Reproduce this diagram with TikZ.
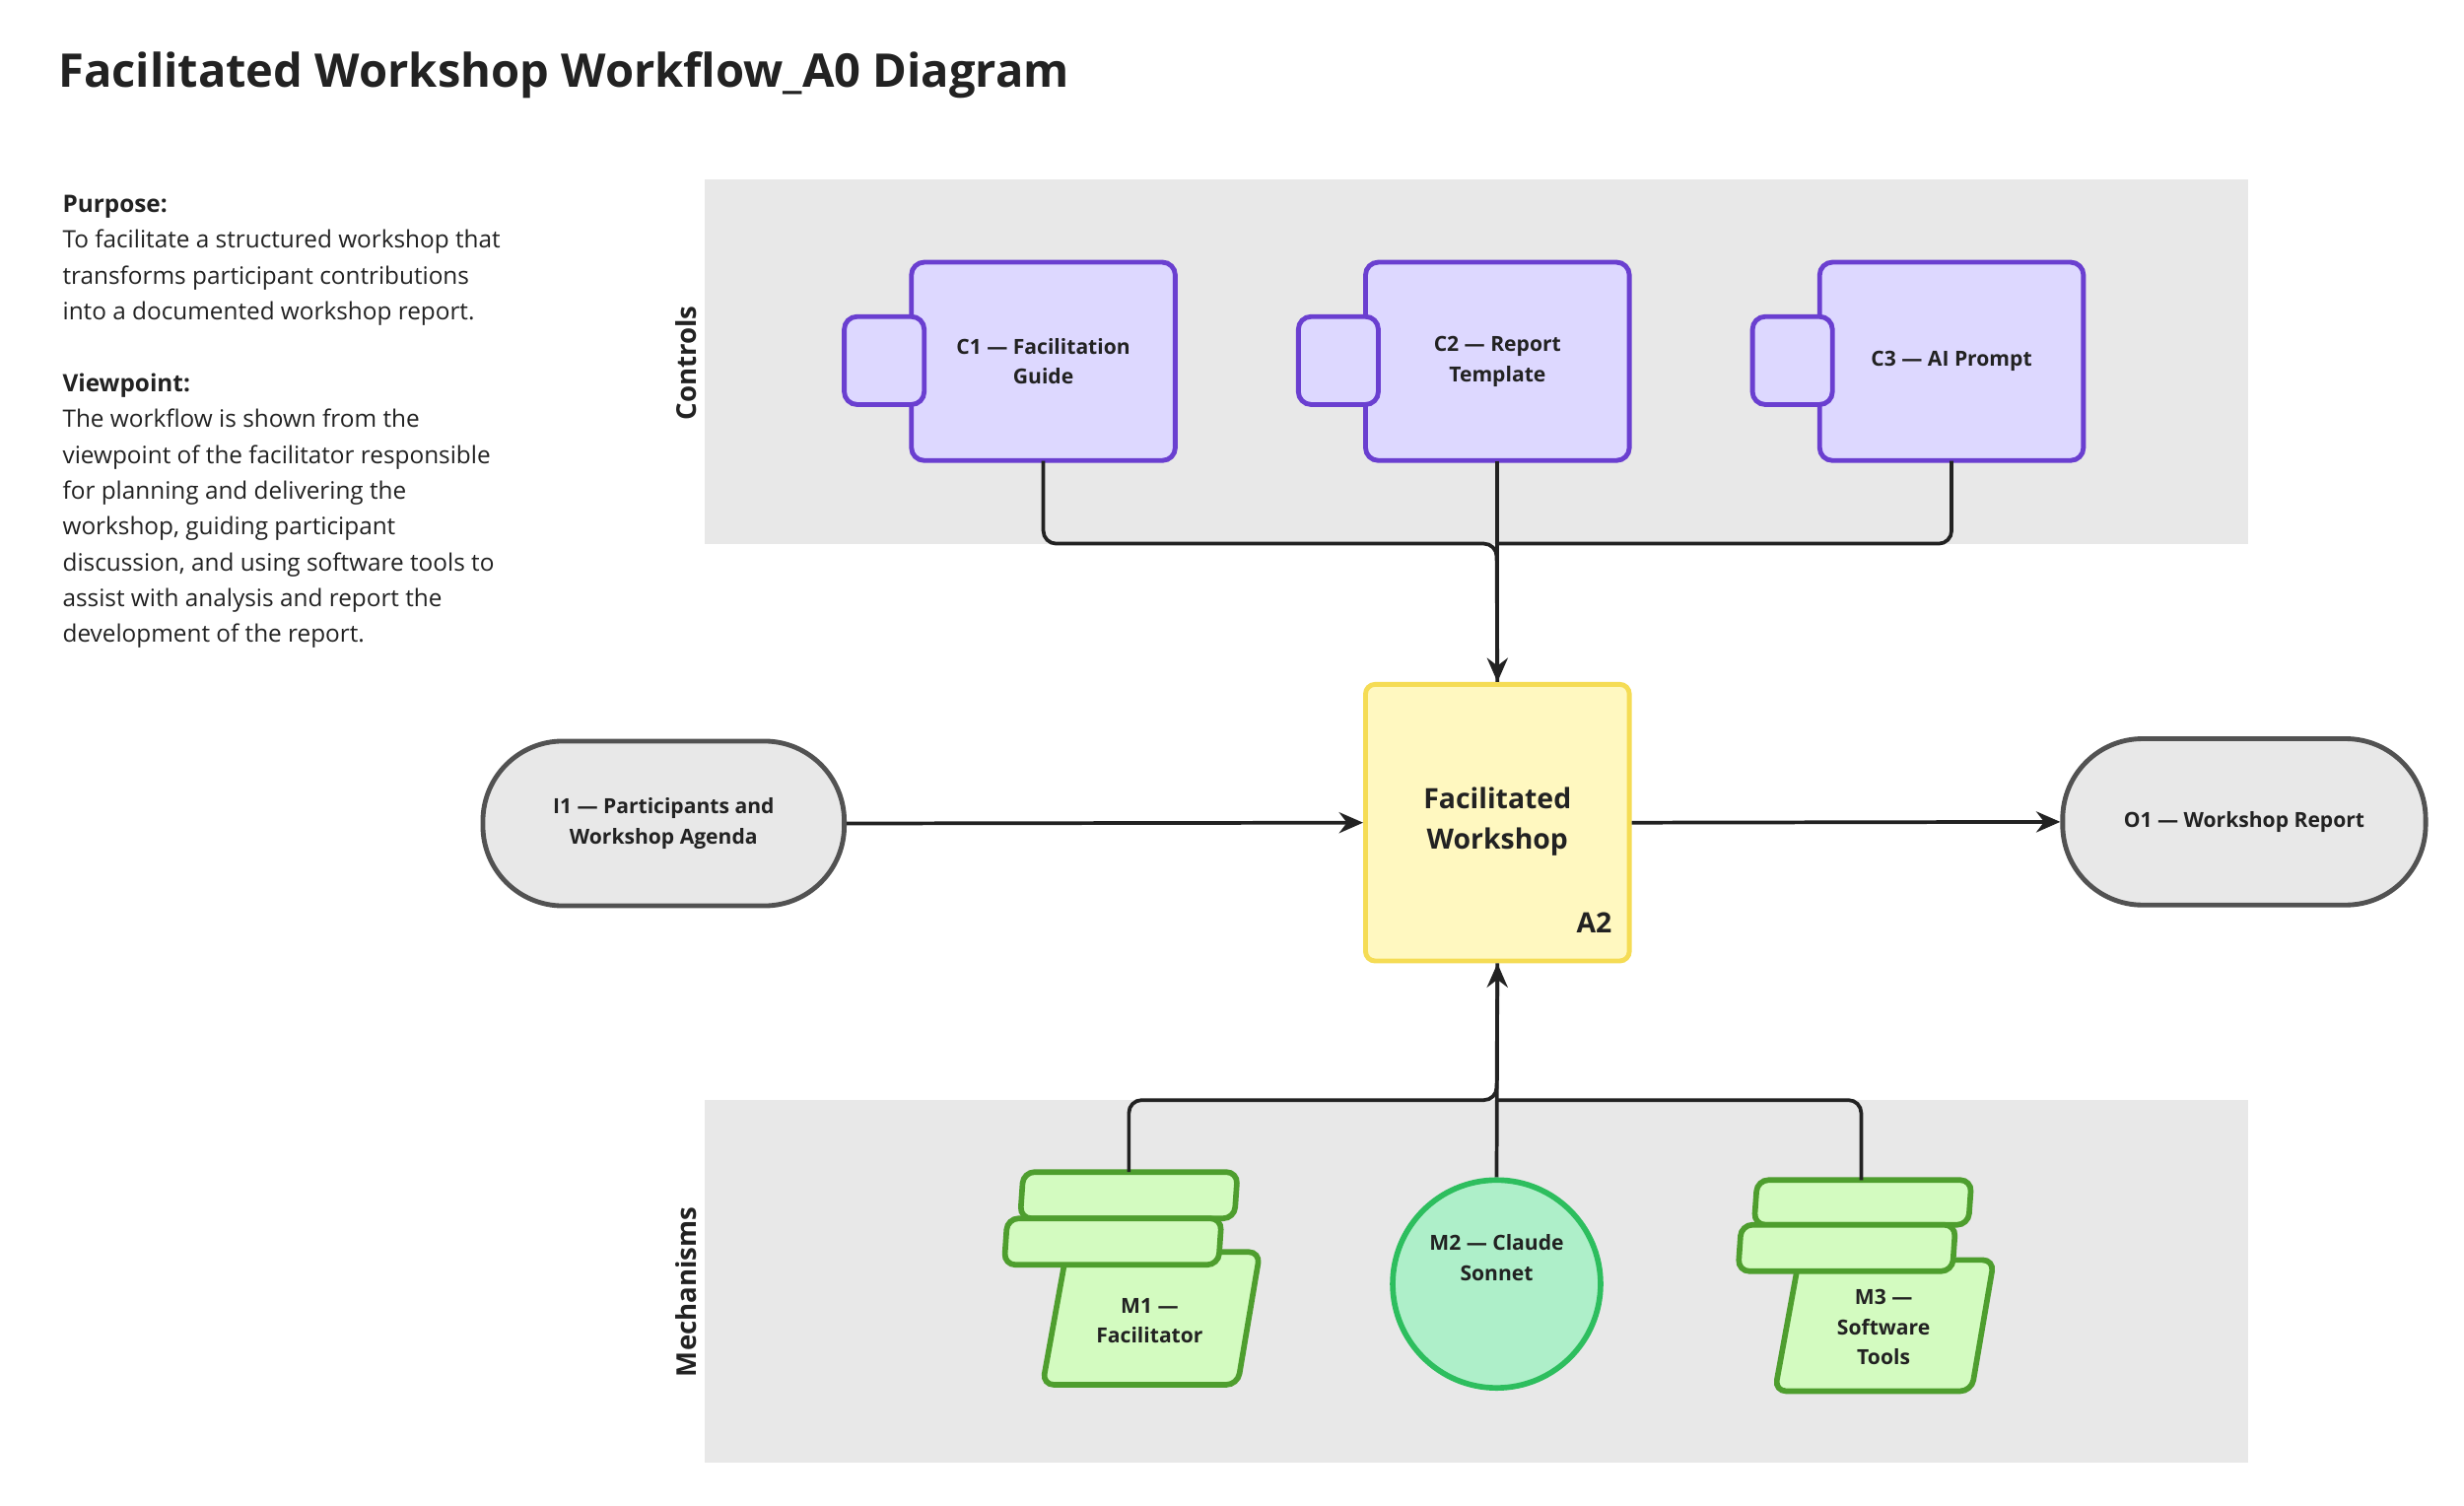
\documentclass[tikz,border=0pt]{standalone}
\usepackage{fontspec}
\setmainfont{Open Sans}
\usetikzlibrary{arrows.meta,shapes.geometric}
\definecolor{band}{HTML}{E8E8E8}
\definecolor{pur}{HTML}{6A3FD0}
\definecolor{purf}{HTML}{DDD8FF}
\definecolor{grn}{HTML}{4E9E2E}
\definecolor{grnf}{HTML}{D3FBC0}
\definecolor{mint}{HTML}{2DBE5E}
\definecolor{mintf}{HTML}{AEEFC9}
\definecolor{yel}{HTML}{F5DC55}
\definecolor{yelf}{HTML}{FFF8C0}
\definecolor{ink}{HTML}{222222}
\begin{document}
\begin{tikzpicture}[x=1pt,y=-1pt,
  lbl/.style={font=\fontsize{13}{19}\selectfont\bfseries,align=center,text=ink},
  ctrl/.style={draw=pur,fill=purf,line width=3pt,rounded corners=8pt},
  mech/.style={draw=grn,fill=grnf,line width=3.5pt,rounded corners=7pt},
  conn/.style={draw=ink,line width=2.3pt,rounded corners=8pt},
  arr/.style={conn,-{Stealth[length=15pt,width=13pt]}},
  term/.style={draw=black!68,fill=band,line width=3pt,rounded corners=50pt}]
\useasboundingbox (0,0) rectangle (1541,941.3);
\fill[white] (0,0) rectangle (1541,941.3);
\node[anchor=west,font=\fontsize{29}{36}\selectfont\bfseries,text=ink] (title) at (33,47) {Facilitated Workshop Workflow\_A0 Diagram};
\node[anchor=north west,align=left,font=\fontsize{15}{22.4}\selectfont,text=ink,inner sep=0pt] (txt) at (39,122) {\textbf{Purpose:}\\To facilitate a structured workshop that\\transforms participant contributions\\into a documented workshop report.\\[22.4pt]\textbf{Viewpoint:}\\The workflow is shown from the\\viewpoint of the facilitator responsible\\for planning and delivering the\\workshop, guiding participant\\discussion, and using software tools to\\assist with analysis and report the\\development of the report.};
% bands
\fill[band] (441,112) rectangle (1406,340);
\fill[band] (441,688) rectangle (1406,915);
\node[rotate=90,font=\fontsize{17}{20}\selectfont\bfseries,text=ink] (cl) at (429,227) {Controls};
\node[rotate=90,font=\fontsize{17}{20}\selectfont\bfseries,text=ink] (ml) at (429,808) {Mechanisms};
% controls
\foreach \n/\x/\t in {c1/570/{C1 — Facilitation\\Guide},c2/854/{C2 — Report\\Template},c3/1138/{C3 — AI Prompt}}{
  \path[ctrl] (\x,164) rectangle ++(165,124);
  \path[ctrl] (\x-42,198) rectangle ++(50,55);
  \node[lbl,minimum width=165pt,minimum height=124pt,inner sep=0pt] (\n) at (\x+82.5,226) {\t};
}
% A2
\node[draw=yel,fill=yelf,line width=3pt,rounded corners=6pt,minimum width=165pt,minimum height=173pt,inner sep=0pt] (a2) at (936.5,514.5) {};
\node[font=\fontsize{17.5}{25}\selectfont\bfseries,align=center,text=ink] (a2t) at (936.5,514) {Facilitated\\Workshop};
\node[font=\fontsize{17.5}{22}\selectfont\bfseries,text=ink] (a2n) at (997,577) {A2};
% terminals
\node[term,minimum width=226pt,minimum height=103pt,lbl] (i1) at (415,515) {I1 — Participants and\\Workshop Agenda};
\node[term,minimum width=227pt,minimum height=104pt,lbl] (o1) at (1403.5,514) {O1 — Workshop Report};
% mechanisms
\path[mech] (640,733) -- (774,733) -- (772,762) -- (638,762) -- cycle;
\path[mech] (667,783) -- (788,783) -- (774,866) -- (652,866) -- cycle;
\path[mech] (630,762) -- (764,762) -- (762,791) -- (628,791) -- cycle;
\node[lbl] (m1) at (719,826) {M1 —\\Facilitator};
\coordinate (m1t) at (706,733);
\node[circle,draw=mint,fill=mintf,line width=3.5pt,minimum size=130pt,inner sep=0pt,lbl] (m2) at (936,803) {M2 — Claude\\Sonnet\\[14pt]};
\path[mech] (1099,738) -- (1233,738) -- (1231,766) -- (1097,766) -- cycle;
\path[mech] (1125,788) -- (1247,788) -- (1233,870) -- (1110,870) -- cycle;
\path[mech] (1089,766) -- (1223,766) -- (1221,795) -- (1087,795) -- cycle;
\node[lbl] (m3) at (1178,830) {M3 —\\Software\\Tools};
\coordinate (m3t) at (1164,738);
% connectors
\draw[conn] (c1.south) |- (936,340) -- (a2.north);
\draw[conn] (c3.south) |- (936,340);
\draw[arr] (c2.south) -- (a2.north);
\draw[arr] (i1.east) -- (a2.west);
\draw[arr] (a2.east) -- (o1.west);
\draw[conn] (m1t) |- (936,688) -- (a2.south);
\draw[conn] (m3t) |- (936,688);
\draw[arr] (m2.north) -- (a2.south);
\end{tikzpicture}
\end{document}
